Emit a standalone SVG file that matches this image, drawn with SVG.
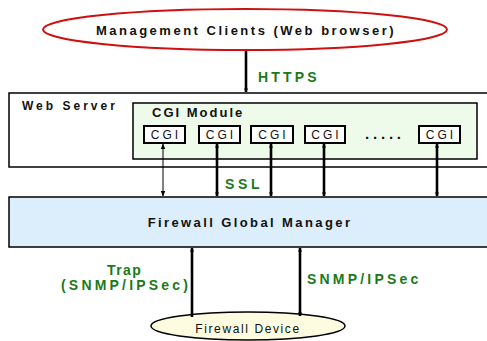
<svg xmlns="http://www.w3.org/2000/svg" width="487" height="341" viewBox="0 0 487 341">
<defs>
<marker id="ah" viewBox="0 0 10 10" refX="9" refY="5" markerWidth="4" markerHeight="4" markerUnits="userSpaceOnUse" orient="auto-start-reverse"><path d="M0,0 L10,5 L0,10 z" fill="#000"/></marker>
<marker id="ahs" viewBox="0 0 10 10" refX="9" refY="5" markerWidth="6" markerHeight="6" markerUnits="userSpaceOnUse" orient="auto-start-reverse"><path d="M0,1 L10,5 L0,9 z" fill="#000"/></marker>
</defs>
<style>
text{font-family:"Liberation Sans",Arial,sans-serif}
.b{font-weight:bold;fill:#111}
.g{font-weight:bold;fill:#1a7a1a;font-size:14px}
.cgi{fill:#fff;stroke:#000;stroke-width:2}
.ct{font-size:12px;letter-spacing:3px;fill:#111}
.thick{stroke:#000;stroke-width:2.6;fill:none}
.thin{stroke:#000;stroke-width:1;fill:none}
</style>
<rect width="487" height="341" fill="#fff"/>
<g id="clients">
<ellipse cx="245" cy="29.5" rx="202" ry="20.5" fill="#fff" stroke="#d01010" stroke-width="2"/>
<text x="246" y="35" class="b" font-size="13" letter-spacing="2.5" text-anchor="middle">Management Clients (Web browser)</text>
</g>
<g id="webserver">
<rect x="9" y="93" width="485" height="74" fill="#fff" stroke="#000" stroke-width="1.5"/>
<text x="22" y="110" class="b" font-size="12" letter-spacing="3">Web Server</text>
</g>
<g id="cgimodule">
<rect x="133" y="103" width="344" height="56" fill="#eefbea" stroke="#000" stroke-width="1.5"/>
<text x="152" y="117" class="b" font-size="13" letter-spacing="2">CGI Module</text>
</g>
<g id="cgi1"><rect x="144" y="126" width="41" height="17" class="cgi"/><text x="166" y="139" class="ct" text-anchor="middle">CGI</text></g>
<g id="cgi2"><rect x="199" y="126" width="41" height="17" class="cgi"/><text x="221" y="139" class="ct" text-anchor="middle">CGI</text></g>
<g id="cgi3"><rect x="251" y="126" width="42" height="17" class="cgi"/><text x="273.5" y="139" class="ct" text-anchor="middle">CGI</text></g>
<g id="cgi4"><rect x="305" y="126" width="40" height="17" class="cgi"/><text x="326.5" y="139" class="ct" text-anchor="middle">CGI</text></g>
<g id="dots"><text x="365" y="139" class="b" font-size="15" letter-spacing="3.8">.....</text></g>
<g id="cgi5"><rect x="419" y="126" width="41" height="17" class="cgi"/><text x="441" y="139" class="ct" text-anchor="middle">CGI</text></g>
<g id="fgm">
<rect x="9" y="197" width="485" height="50" fill="#dcedfc" stroke="#000" stroke-width="1.5"/>
<text x="250" y="227" class="b" font-size="13" letter-spacing="2.4" text-anchor="middle">Firewall Global Manager</text>
</g>
<g id="device">
<ellipse cx="248" cy="326" rx="97" ry="14" fill="#fdfbe0" stroke="#000" stroke-width="1.5"/>
<text x="248" y="333" font-size="12" letter-spacing="1.6" fill="#111" text-anchor="middle">Firewall Device</text>
</g>
<g id="connectors">
<line x1="246" y1="51" x2="246" y2="92" class="thick" marker-end="url(#ah)"/>
<line x1="163" y1="144" x2="163" y2="196" class="thin" marker-start="url(#ahs)" marker-end="url(#ahs)"/>
<line x1="217" y1="144" x2="217" y2="196" class="thick" marker-start="url(#ah)" marker-end="url(#ah)"/>
<line x1="271" y1="144" x2="271" y2="196" class="thick" marker-start="url(#ah)" marker-end="url(#ah)"/>
<line x1="324" y1="144" x2="324" y2="196" class="thick" marker-start="url(#ah)" marker-end="url(#ah)"/>
<line x1="437" y1="144" x2="437" y2="196" class="thick" marker-start="url(#ah)" marker-end="url(#ah)"/>
<line x1="192" y1="317" x2="192" y2="248" class="thick" marker-end="url(#ah)"/>
<line x1="300" y1="316" x2="300" y2="248" class="thick" marker-start="url(#ah)" marker-end="url(#ah)"/>
<text x="258" y="82" class="g" letter-spacing="3.2">HTTPS</text>
<text x="225" y="189" class="g" letter-spacing="3.6">SSL</text>
<text x="107" y="275" class="g" letter-spacing="1.4">Trap</text>
<text x="61" y="290" class="g" letter-spacing="3.2">(SNMP/IPSec)</text>
<text x="307" y="284" class="g" letter-spacing="3.2">SNMP/IPSec</text>
</g>
</svg>
